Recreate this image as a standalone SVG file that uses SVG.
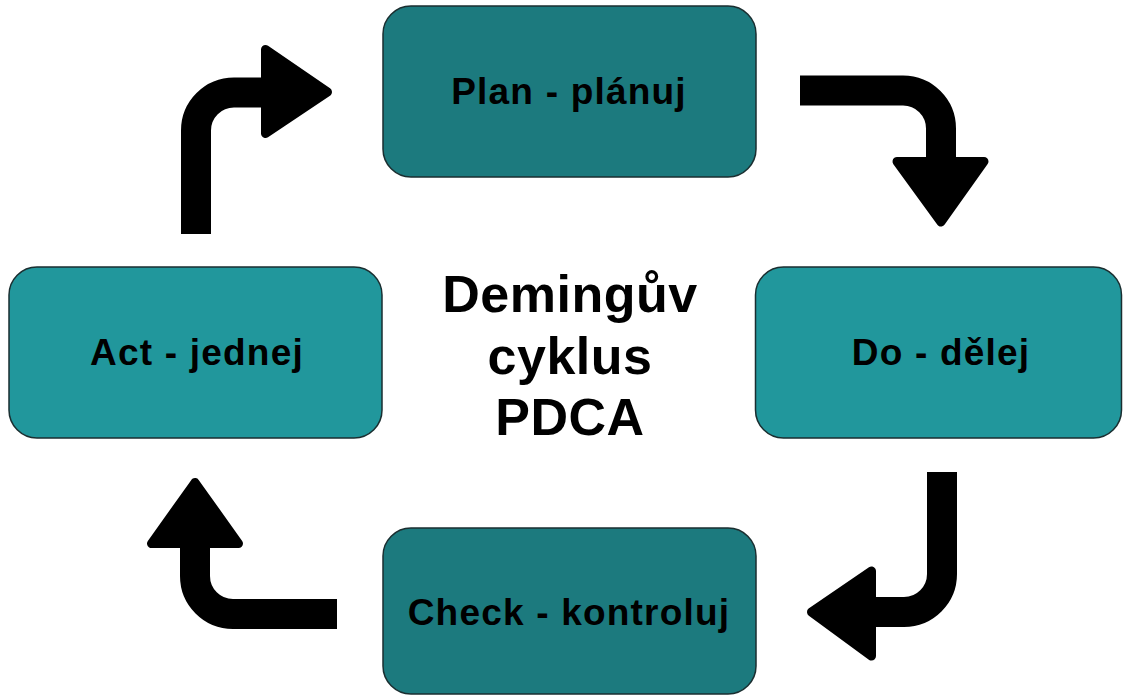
<svg xmlns="http://www.w3.org/2000/svg" width="1123" height="696" viewBox="0 0 1123 696">
<style>
.box{stroke:#1a2e30;stroke-width:1.5}
.dark{fill:#1c7a7e}
.light{fill:#21979c}
.lbl{font-family:"Liberation Sans",Arial,sans-serif;font-weight:bold;font-size:37px;letter-spacing:1.2px;fill:#000;text-anchor:middle}
.title{font-family:"Liberation Sans",Arial,sans-serif;font-weight:bold;font-size:52px;letter-spacing:0.5px;fill:#000;text-anchor:middle}
.shaft{fill:none;stroke:#000;stroke-width:30}
.head{fill:#000;stroke:#000;stroke-width:9;stroke-linejoin:round}
</style>
<rect width="1123" height="696" fill="#fff"/>
<g id="connectors">
<path class="shaft" d="M800,90.5 H903 A38,38 0 0 1 941,128.5 V165"/>
<polygon class="head" points="897,161.5 984,161.5 941,222"/>
<path class="shaft" d="M942,472 V574 A38,38 0 0 1 904,612 H868"/>
<polygon class="head" points="811.5,612 871.5,571 871.5,656"/>
<path class="shaft" d="M337,614 H233 A38,38 0 0 1 195,576 V540"/>
<polygon class="head" points="195,482.5 151.5,543.5 238.5,543.5"/>
<path class="shaft" d="M196,234 V130.5 A38,38 0 0 1 234,92.5 H268"/>
<polygon class="head" points="265.5,49.5 327.5,92 265.5,133.5"/>
</g>
<g id="plan">
<rect class="box dark" x="383" y="6" width="373" height="171" rx="28"/>
<text class="lbl" x="569" y="104">Plan - plánuj</text>
</g>
<g id="do">
<rect class="box light" x="755.5" y="267" width="366" height="171" rx="28"/>
<text class="lbl" x="941" y="365">Do - dělej</text>
</g>
<g id="check">
<rect class="box dark" x="383" y="528" width="373" height="166" rx="28"/>
<text class="lbl" x="569" y="625">Check - kontroluj</text>
</g>
<g id="act">
<rect class="box light" x="9" y="267" width="373" height="171" rx="28"/>
<text class="lbl" x="197" y="365">Act - jednej</text>
</g>
<g id="center">
<text class="title" x="570" y="312">Demingův</text>
<text class="title" x="570" y="374">cyklus</text>
<text class="title" x="570" y="435">PDCA</text>
</g>
</svg>
